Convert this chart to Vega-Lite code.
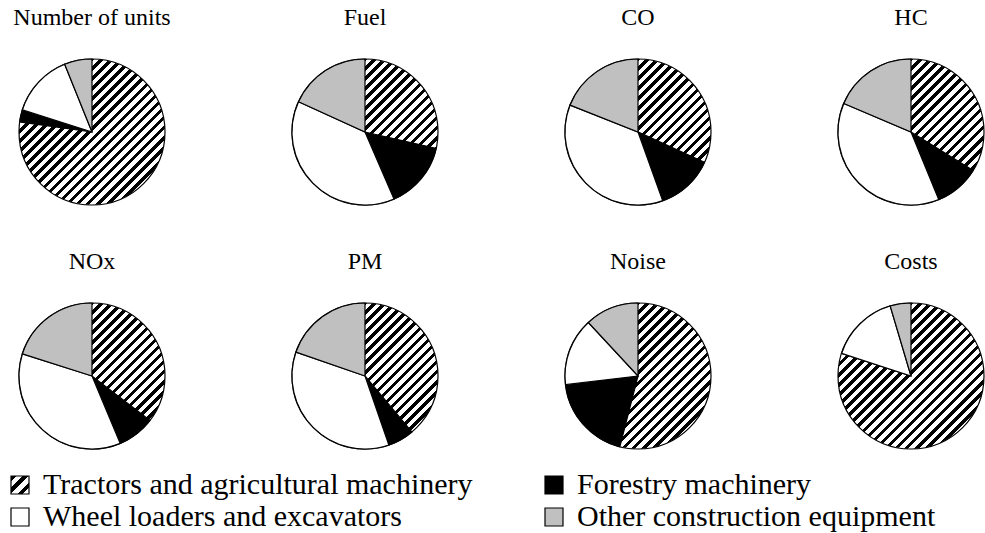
{
  "$schema": "https://vega.github.io/schema/vega-lite/v6.json",
  "background": "white",
  "padding": {"left": 5, "top": 5, "right": 5, "bottom": 5},
  "data": {"values": [
    {"metric": "Number of units", "category": "Tractors and agricultural machinery", "order": 1, "share": 77.2},
    {"metric": "Number of units", "category": "Forestry machinery", "order": 2, "share": 2.7},
    {"metric": "Number of units", "category": "Wheel loaders and excavators", "order": 3, "share": 14.0},
    {"metric": "Number of units", "category": "Other construction equipment", "order": 4, "share": 6.1},
    {"metric": "Fuel", "category": "Tractors and agricultural machinery", "order": 1, "share": 28.6},
    {"metric": "Fuel", "category": "Forestry machinery", "order": 2, "share": 14.9},
    {"metric": "Fuel", "category": "Wheel loaders and excavators", "order": 3, "share": 38.3},
    {"metric": "Fuel", "category": "Other construction equipment", "order": 4, "share": 18.2},
    {"metric": "CO", "category": "Tractors and agricultural machinery", "order": 1, "share": 31.8},
    {"metric": "CO", "category": "Forestry machinery", "order": 2, "share": 12.7},
    {"metric": "CO", "category": "Wheel loaders and excavators", "order": 3, "share": 36.5},
    {"metric": "CO", "category": "Other construction equipment", "order": 4, "share": 19.0},
    {"metric": "HC", "category": "Tractors and agricultural machinery", "order": 1, "share": 33.8},
    {"metric": "HC", "category": "Forestry machinery", "order": 2, "share": 10.0},
    {"metric": "HC", "category": "Wheel loaders and excavators", "order": 3, "share": 37.6},
    {"metric": "HC", "category": "Other construction equipment", "order": 4, "share": 18.6},
    {"metric": "NOx", "category": "Tractors and agricultural machinery", "order": 1, "share": 35.4},
    {"metric": "NOx", "category": "Forestry machinery", "order": 2, "share": 8.3},
    {"metric": "NOx", "category": "Wheel loaders and excavators", "order": 3, "share": 36.2},
    {"metric": "NOx", "category": "Other construction equipment", "order": 4, "share": 20.1},
    {"metric": "PM", "category": "Tractors and agricultural machinery", "order": 1, "share": 38.9},
    {"metric": "PM", "category": "Forestry machinery", "order": 2, "share": 5.8},
    {"metric": "PM", "category": "Wheel loaders and excavators", "order": 3, "share": 35.6},
    {"metric": "PM", "category": "Other construction equipment", "order": 4, "share": 19.7},
    {"metric": "Noise", "category": "Tractors and agricultural machinery", "order": 1, "share": 54.0},
    {"metric": "Noise", "category": "Forestry machinery", "order": 2, "share": 19.1},
    {"metric": "Noise", "category": "Wheel loaders and excavators", "order": 3, "share": 15.0},
    {"metric": "Noise", "category": "Other construction equipment", "order": 4, "share": 11.9},
    {"metric": "Costs", "category": "Tractors and agricultural machinery", "order": 1, "share": 80.0},
    {"metric": "Costs", "category": "Forestry machinery", "order": 2, "share": 0},
    {"metric": "Costs", "category": "Wheel loaders and excavators", "order": 3, "share": 15.4},
    {"metric": "Costs", "category": "Other construction equipment", "order": 4, "share": 4.6}
  ]},
  "facet": {
    "field": "metric",
    "type": "nominal",
    "sort": ["Number of units", "Fuel", "CO", "HC", "NOx", "PM", "Noise", "Costs"],
    "header": {"title": null, "labelFont": "Liberation Serif", "labelFontSize": 24, "labelColor": "black", "labelPadding": 27}
  },
  "columns": 4,
  "spacing": {"column": 118, "row": 41},
  "spec": {
    "width": 146,
    "height": 146,
    "layer": [
      {
        "transform": [{"aggregate": [{"op": "sum", "field": "share", "as": "total"}], "groupby": ["metric"]}],
        "mark": {"type": "arc", "outerRadius": 73, "stroke": "black", "strokeWidth": 1.2,
          "fill": {"gradient": "linear", "x1": 0, "y1": 0, "x2": 1, "y2": 1, "stops": [
            {"offset": 0, "color": "#000"}, {"offset": 0.0155, "color": "#000"}, {"offset": 0.0155, "color": "#fff"}, {"offset": 0.0345, "color": "#fff"},
            {"offset": 0.0345, "color": "#000"}, {"offset": 0.0500, "color": "#000"}, {"offset": 0.0500, "color": "#fff"}, {"offset": 0.0690, "color": "#fff"},
            {"offset": 0.0690, "color": "#000"}, {"offset": 0.0845, "color": "#000"}, {"offset": 0.0845, "color": "#fff"}, {"offset": 0.1034, "color": "#fff"},
            {"offset": 0.1034, "color": "#000"}, {"offset": 0.1190, "color": "#000"}, {"offset": 0.1190, "color": "#fff"}, {"offset": 0.1379, "color": "#fff"},
            {"offset": 0.1379, "color": "#000"}, {"offset": 0.1534, "color": "#000"}, {"offset": 0.1534, "color": "#fff"}, {"offset": 0.1724, "color": "#fff"},
            {"offset": 0.1724, "color": "#000"}, {"offset": 0.1879, "color": "#000"}, {"offset": 0.1879, "color": "#fff"}, {"offset": 0.2069, "color": "#fff"},
            {"offset": 0.2069, "color": "#000"}, {"offset": 0.2224, "color": "#000"}, {"offset": 0.2224, "color": "#fff"}, {"offset": 0.2414, "color": "#fff"},
            {"offset": 0.2414, "color": "#000"}, {"offset": 0.2569, "color": "#000"}, {"offset": 0.2569, "color": "#fff"}, {"offset": 0.2759, "color": "#fff"},
            {"offset": 0.2759, "color": "#000"}, {"offset": 0.2914, "color": "#000"}, {"offset": 0.2914, "color": "#fff"}, {"offset": 0.3103, "color": "#fff"},
            {"offset": 0.3103, "color": "#000"}, {"offset": 0.3259, "color": "#000"}, {"offset": 0.3259, "color": "#fff"}, {"offset": 0.3448, "color": "#fff"},
            {"offset": 0.3448, "color": "#000"}, {"offset": 0.3603, "color": "#000"}, {"offset": 0.3603, "color": "#fff"}, {"offset": 0.3793, "color": "#fff"},
            {"offset": 0.3793, "color": "#000"}, {"offset": 0.3948, "color": "#000"}, {"offset": 0.3948, "color": "#fff"}, {"offset": 0.4138, "color": "#fff"},
            {"offset": 0.4138, "color": "#000"}, {"offset": 0.4293, "color": "#000"}, {"offset": 0.4293, "color": "#fff"}, {"offset": 0.4483, "color": "#fff"},
            {"offset": 0.4483, "color": "#000"}, {"offset": 0.4638, "color": "#000"}, {"offset": 0.4638, "color": "#fff"}, {"offset": 0.4828, "color": "#fff"},
            {"offset": 0.4828, "color": "#000"}, {"offset": 0.4983, "color": "#000"}, {"offset": 0.4983, "color": "#fff"}, {"offset": 0.5172, "color": "#fff"},
            {"offset": 0.5172, "color": "#000"}, {"offset": 0.5328, "color": "#000"}, {"offset": 0.5328, "color": "#fff"}, {"offset": 0.5517, "color": "#fff"},
            {"offset": 0.5517, "color": "#000"}, {"offset": 0.5672, "color": "#000"}, {"offset": 0.5672, "color": "#fff"}, {"offset": 0.5862, "color": "#fff"},
            {"offset": 0.5862, "color": "#000"}, {"offset": 0.6017, "color": "#000"}, {"offset": 0.6017, "color": "#fff"}, {"offset": 0.6207, "color": "#fff"},
            {"offset": 0.6207, "color": "#000"}, {"offset": 0.6362, "color": "#000"}, {"offset": 0.6362, "color": "#fff"}, {"offset": 0.6552, "color": "#fff"},
            {"offset": 0.6552, "color": "#000"}, {"offset": 0.6707, "color": "#000"}, {"offset": 0.6707, "color": "#fff"}, {"offset": 0.6897, "color": "#fff"},
            {"offset": 0.6897, "color": "#000"}, {"offset": 0.7052, "color": "#000"}, {"offset": 0.7052, "color": "#fff"}, {"offset": 0.7241, "color": "#fff"},
            {"offset": 0.7241, "color": "#000"}, {"offset": 0.7397, "color": "#000"}, {"offset": 0.7397, "color": "#fff"}, {"offset": 0.7586, "color": "#fff"},
            {"offset": 0.7586, "color": "#000"}, {"offset": 0.7741, "color": "#000"}, {"offset": 0.7741, "color": "#fff"}, {"offset": 0.7931, "color": "#fff"},
            {"offset": 0.7931, "color": "#000"}, {"offset": 0.8086, "color": "#000"}, {"offset": 0.8086, "color": "#fff"}, {"offset": 0.8276, "color": "#fff"},
            {"offset": 0.8276, "color": "#000"}, {"offset": 0.8431, "color": "#000"}, {"offset": 0.8431, "color": "#fff"}, {"offset": 0.8621, "color": "#fff"},
            {"offset": 0.8621, "color": "#000"}, {"offset": 0.8776, "color": "#000"}, {"offset": 0.8776, "color": "#fff"}, {"offset": 0.8966, "color": "#fff"},
            {"offset": 0.8966, "color": "#000"}, {"offset": 0.9121, "color": "#000"}, {"offset": 0.9121, "color": "#fff"}, {"offset": 0.9310, "color": "#fff"},
            {"offset": 0.9310, "color": "#000"}, {"offset": 0.9466, "color": "#000"}, {"offset": 0.9466, "color": "#fff"}, {"offset": 0.9655, "color": "#fff"},
            {"offset": 0.9655, "color": "#000"}, {"offset": 0.9810, "color": "#000"}, {"offset": 0.9810, "color": "#fff"}, {"offset": 1, "color": "#fff"}
          ]}
        },
        "encoding": {
          "theta": {"field": "total", "type": "quantitative", "scale": {"domain": [0, 100]}}
        }
      },
      {
        "transform": [
          {"stack": "share", "groupby": ["metric"], "sort": [{"field": "order", "order": "ascending"}], "as": ["t0", "t1"]},
          {"filter": "datum.order > 1"}
        ],
        "mark": {"type": "arc", "outerRadius": 73, "stroke": "black", "strokeWidth": 1.2},
        "encoding": {
          "theta": {"field": "t0", "type": "quantitative", "stack": null, "scale": {"domain": [0, 100]}},
          "theta2": {"field": "t1"},
          "fill": {
            "field": "category",
            "type": "nominal",
            "scale": {
              "domain": ["Tractors and agricultural machinery", "Forestry machinery", "Wheel loaders and excavators", "Other construction equipment"],
              "range": [
                {"expr": "{gradient: 'linear', x1: 0, y1: 0, x2: 1, y2: 1, stops: [{offset: 0, color: '#000'}, {offset: 0.15, color: '#000'}, {offset: 0.15, color: '#fff'}, {offset: 0.3333, color: '#fff'}, {offset: 0.3333, color: '#000'}, {offset: 0.4833, color: '#000'}, {offset: 0.4833, color: '#fff'}, {offset: 0.6667, color: '#fff'}, {offset: 0.6667, color: '#000'}, {offset: 0.8167, color: '#000'}, {offset: 0.8167, color: '#fff'}, {offset: 1, color: '#fff'}]}"},
                "#000000", "#ffffff", "#c0c0c0"
              ]
            },
            "legend": {
              "title": null,
              "orient": "none",
              "legendX": -14,
              "legendY": 411,
              "padding": 0,
              "direction": "horizontal",
              "columns": 2,
              "symbolType": "square",
              "symbolSize": 324,
              "symbolStrokeColor": "black",
              "symbolStrokeWidth": 1.2,
              "labelFont": "Liberation Serif",
              "labelFontSize": 30,
              "labelColor": "black",
              "labelOffset": 8,
              "labelLimit": 1000,
              "rowPadding": 2,
              "columnPadding": 66,
              "encode": {
                "symbols": {
                  "update": {
                    "stroke": {"value": "black"},
                    "strokeWidth": {"value": 1.2}
                  }
                },
                "labels": {
                  "update": {
                    "font": {"value": "Liberation Serif"}
                  }
                }
              }
            }
          }
        }
      }
    ]
  },
  "config": {"view": {"stroke": null}, "font": "Liberation Serif", "legend": {"labelFont": "Liberation Serif"}}
}
